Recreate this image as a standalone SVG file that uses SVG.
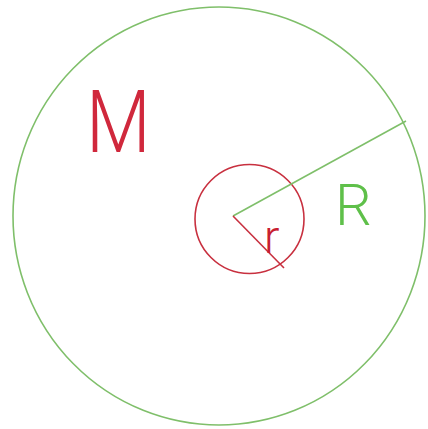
<svg xmlns="http://www.w3.org/2000/svg" width="428" height="429" viewBox="0 0 428 429">
<style>
.g{stroke:#7fbf6a;fill:none;stroke-width:1.6}
.rd{stroke:#c8303f;fill:none;stroke-width:1.6}
.lbl{font-family:Roboto,"Liberation Sans",sans-serif;font-weight:300}
</style>
<rect width="428" height="429" fill="#fff"/>
<g id="outer"><ellipse class="g" cx="219" cy="216" rx="206" ry="209"/></g>
<g id="inner"><circle class="rd" cx="249.5" cy="219" r="54.5"/></g>
<g id="connectors">
<line class="g" x1="233" y1="216" x2="406" y2="121"/>
<line class="rd" x1="233" y1="216" x2="284" y2="268" stroke-width="2"/>
</g>
<g id="labels">
<text class="lbl" x="86" y="152" font-size="88" fill="#d0283c" transform="translate(86 152) scale(0.85 1) translate(-86 -152)">M</text>
<text class="lbl" x="335" y="225" font-size="58" fill="#5fc04a">R</text>
<text class="lbl" x="264" y="253" font-size="46" fill="#c8202f">r</text>
</g>
</svg>
